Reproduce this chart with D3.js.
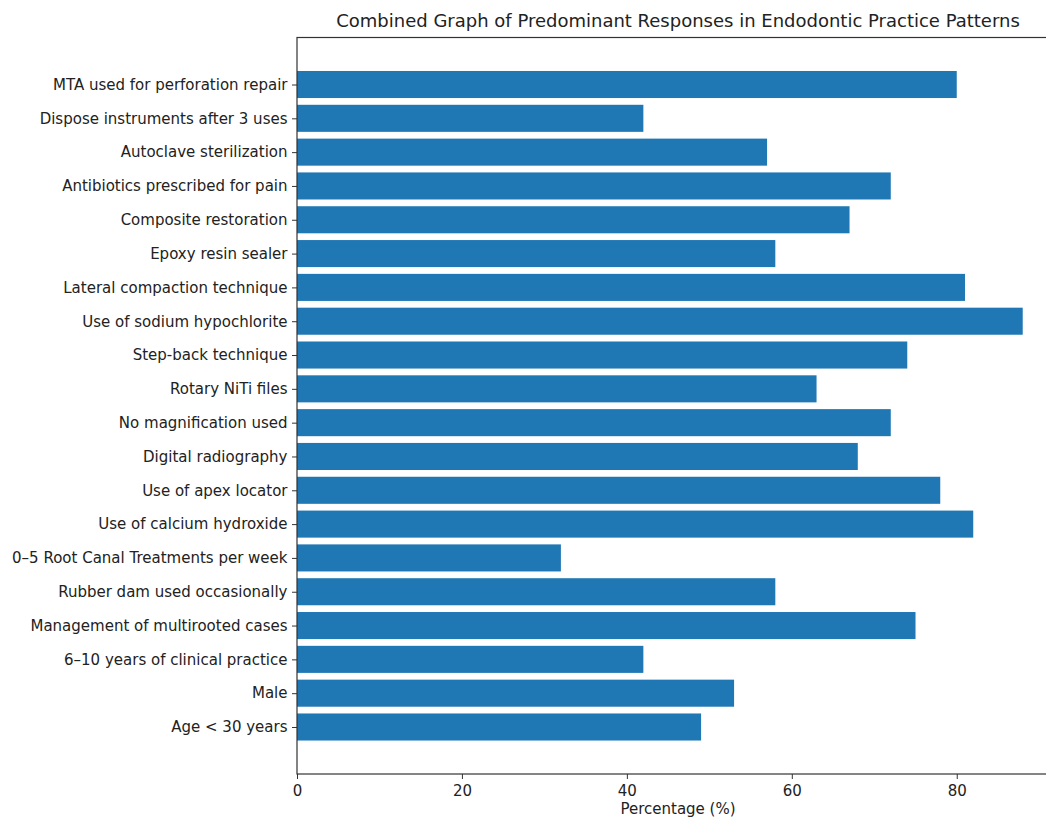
<!DOCTYPE html>
<html>
<head>
<meta charset="utf-8">
<script src="https://cdn.jsdelivr.net/npm/d3@7"></script>
<style>
  html, body { margin: 0; padding: 0; background: #fff; overflow: hidden; }
  svg { display: block; font-family: "DejaVu Sans", sans-serif; }
</style>
</head>
<body>
<svg id="chart" width="1046" height="819"></svg>
<script>
// categories, top to bottom as drawn
const categories = [
  "MTA used for perforation repair",
  "Dispose instruments after 3 uses",
  "Autoclave sterilization",
  "Antibiotics prescribed for pain",
  "Composite restoration",
  "Epoxy resin sealer",
  "Lateral compaction technique",
  "Use of sodium hypochlorite",
  "Step-back technique",
  "Rotary NiTi files",
  "No magnification used",
  "Digital radiography",
  "Use of apex locator",
  "Use of calcium hydroxide",
  "0–5 Root Canal Treatments per week",
  "Rubber dam used occasionally",
  "Management of multirooted cases",
  "6–10 years of clinical practice",
  "Male",
  "Age < 30 years"
]
const percentages = [80, 42, 57, 72, 67, 58, 81, 88, 74, 63, 72, 68, 78, 82, 32, 58, 75, 42, 53, 49]
const xTicks = [0, 20, 40, 60, 80]

const svg = d3.select("#chart")

//axes box (right edge falls just outside the picture, like the reference)
const axLeft = 297, axRight = 1059, axTop = 37.5, axBottom = 774
const n = categories.length
const barH = 0.8
const yPad = (n - 1 + barH) * 0.05

const xMax = d3.max(percentages) * 1.05
const x = d3.scaleLinear().domain([0, xMax]).range([axLeft, axRight])
const y = d3.scaleLinear().domain([-barH / 2 - yPad, n - 1 + barH / 2 + yPad]).range([axBottom, axTop])

//position of each category, first one on top
const pos = (d, i) => n - 1 - i

svg.append("g")
  .selectAll("rect")
  .data(percentages)
  .join("rect")
  .attr("x", x(0))
  .attr("y", (d, i) => y(pos(d, i) + barH / 2))
  .attr("width", d => x(d) - x(0))
  .attr("height", (d, i) => y(pos(d, i) - barH / 2) - y(pos(d, i) + barH / 2))
  .attr("fill", "#1f77b4")

//x axis
const xAxis = svg.append("g")
  .attr("transform", `translate(0,${axBottom})`)
  .call(d3.axisBottom(x).tickValues(xTicks).tickFormat(d3.format("d")).tickSize(5).tickPadding(6))
xAxis.select(".domain").remove()
xAxis.selectAll("text").attr("font-size", 15).attr("fill", "#222").attr("font-family", "DejaVu Sans")
xAxis.selectAll("line").attr("stroke", "#333")

//y axis
const yAxis = svg.append("g")
  .attr("transform", `translate(${axLeft},0)`)
  .call(d3.axisLeft(y).tickValues(d3.range(n)).tickFormat(v => categories[n - 1 - v]).tickSize(5).tickPadding(4.5))
yAxis.select(".domain").remove()
yAxis.selectAll("text").attr("font-size", 15).attr("fill", "#222").attr("font-family", "DejaVu Sans")
yAxis.selectAll("line").attr("stroke", "#333")

//spines
svg.append("rect")
  .attr("x", axLeft).attr("y", axTop)
  .attr("width", axRight - axLeft).attr("height", axBottom - axTop)
  .attr("fill", "none").attr("stroke", "#333").attr("stroke-width", 1.2)

//title and label
svg.append("text")
  .attr("x", (axLeft + axRight) / 2).attr("y", 27)
  .attr("text-anchor", "middle").attr("font-size", 18).attr("fill", "#222")
  .text("Combined Graph of Predominant Responses in Endodontic Practice Patterns")

svg.append("text")
  .attr("x", (axLeft + axRight) / 2).attr("y", 814)
  .attr("text-anchor", "middle").attr("font-size", 15).attr("fill", "#222")
  .text("Percentage (%)")
</script>
</body>
</html>
